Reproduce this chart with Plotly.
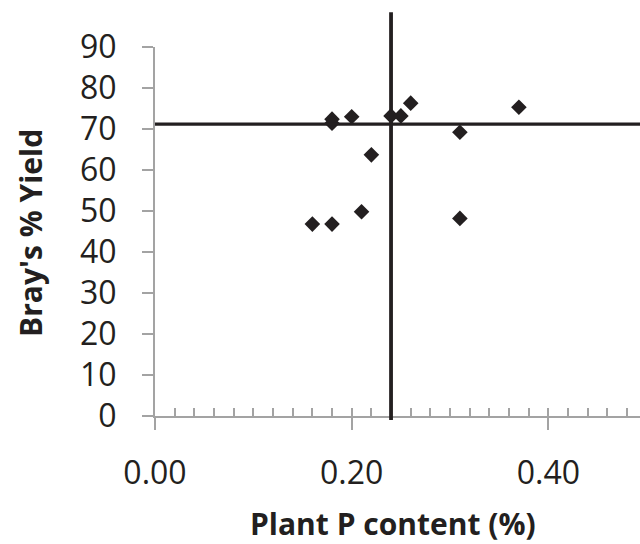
import plotly.graph_objects as go

# Plant P content (%) vs Bray's % yield
p_content = [0.16, 0.18, 0.21, 0.22, 0.18, 0.18, 0.20, 0.24, 0.25, 0.26, 0.37, 0.31, 0.31]
bray_yield = [46.8, 46.8, 49.8, 63.7, 72.4, 71.4, 73.0, 73.2, 73.2, 76.3, 75.3, 69.2, 48.2]

# critical level lines
critical_p = 0.24
critical_yield = 71.2

x_tickvals = [0.0, 0.2, 0.4]
y_tickvals = [0, 10, 20, 30, 40, 50, 60, 70, 80, 90]

W, H = 640, 544
ML, MR, MT, MB = 155, 0, 47, 128
plot_w = W - ML - MR
plot_h = H - MT - MB
px_per_unit = 983.5
x_max = plot_w / px_per_unit
y_max = 90

ink = "#231f20"
axis_gray = "#a3a3a3"
font_family = "Open Sans, Lato, sans-serif"

fig = go.Figure()

fig.add_trace(go.Scatter(
    x=p_content, y=bray_yield, mode="markers",
    marker=dict(symbol="diamond", size=12, color=ink, line=dict(width=0)),
    showlegend=False, hoverinfo="x+y",
))

# invisible trace so the minor-tick overlay axis gets drawn
fig.add_trace(go.Scatter(x=[0], y=[0], xaxis="x2", mode="markers",
                         marker=dict(opacity=0), showlegend=False, hoverinfo="skip"))

# horizontal critical line (clipped at the plot edge)
fig.add_shape(type="line", xref="x", yref="y",
              x0=0, x1=0.6, y0=critical_yield, y1=critical_yield,
              line=dict(color=ink, width=3.3))
# vertical critical line, running slightly past both axis ends
fig.add_shape(type="line", xref="x", yref="paper",
              x0=critical_p, x1=critical_p, y0=-1 / y_max, y1=98.5 / y_max,
              line=dict(color=ink, width=3.8))

def paper_x(px):
    return (px - ML) / plot_w

def paper_y(py):
    return (H - MB - py) / plot_h

fig.add_annotation(text="<b>Plant P content (%)</b>", xref="paper", yref="paper",
                   x=paper_x(392.5), y=paper_y(523), xanchor="center", yanchor="middle",
                   showarrow=False, font=dict(family=font_family, size=30, color=ink))
fig.add_annotation(text="<b>Bray's % Yield</b>", xref="paper", yref="paper",
                   x=paper_x(30), y=paper_y(233), xanchor="center", yanchor="middle",
                   textangle=-90, showarrow=False,
                   font=dict(family=font_family, size=30, color=ink))

fig.update_layout(
    width=W, height=H,
    margin=dict(l=ML, r=MR, t=MT, b=MB, pad=0),
    paper_bgcolor="white", plot_bgcolor="white",
    font=dict(family=font_family, color=ink),
    xaxis=dict(
        range=[0, x_max], tickvals=x_tickvals, tickformat=".2f",
        showgrid=False, zeroline=False,
        showline=True, linecolor=axis_gray, linewidth=2,
        ticks="outside", ticklen=12, tickwidth=2, tickcolor=axis_gray,
        ticklabelstandoff=16,
        tickfont=dict(family=font_family, size=32, color=ink),
    ),
    xaxis2=dict(
        overlaying="x", matches="x", anchor="y", side="bottom",
        range=[0, x_max], tick0=0, dtick=0.02,
        showgrid=False, zeroline=False, showline=False, showticklabels=False,
        ticks="inside", ticklen=8, tickwidth=2, tickcolor=axis_gray,
    ),
    yaxis=dict(
        range=[0, y_max], tickvals=y_tickvals,
        showgrid=False, zeroline=False,
        showline=True, linecolor=axis_gray, linewidth=2,
        ticks="outside", ticklen=11, tickwidth=2, tickcolor=axis_gray,
        ticklabelstandoff=19,
        tickfont=dict(family=font_family, size=32, color=ink),
    ),
)

fig.write_html("out.html")
